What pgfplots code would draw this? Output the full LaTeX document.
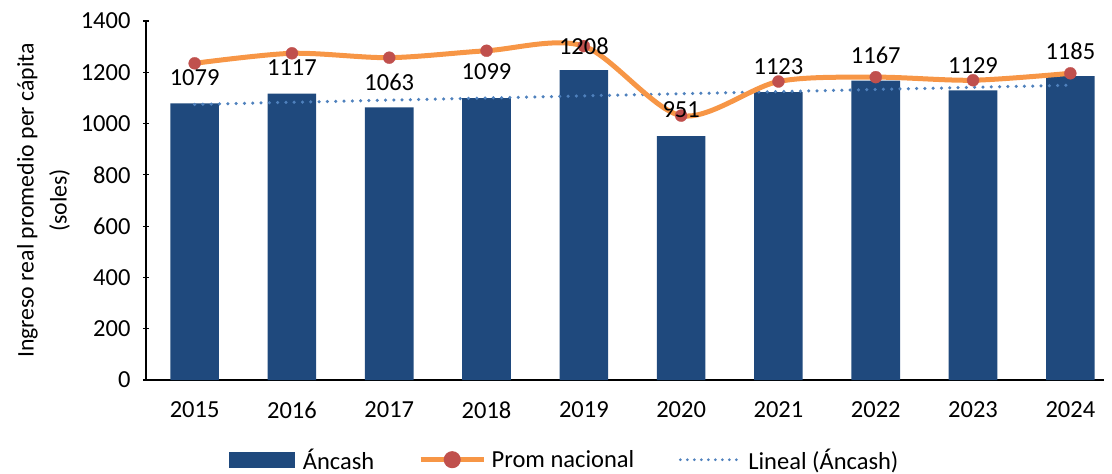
\documentclass[border=0pt]{standalone}
\usepackage{fontspec}
\setmainfont{Carlito}
\usepackage{pgfplots}
\pgfplotsset{compat=1.18}
\definecolor{barblue}{RGB}{31,73,125}
\definecolor{lineorange}{RGB}{247,150,70}
\definecolor{markred}{RGB}{192,80,77}
\definecolor{trendblue}{RGB}{79,129,189}

\begin{document}
\begin{tikzpicture}
\useasboundingbox (-146pt,-94pt) rectangle (966pt,380pt);
\begin{axis}[
    scale only axis,
    width=958pt, height=359pt,
    xmin=-0.5, xmax=9.346,
    ymin=0, ymax=1400,
    ytick={0,200,...,1400},
    xtick={0,...,9},
    xticklabels={2015,2016,2017,2018,2019,2020,2021,2022,2023,2024},
    minor xtick={-0.5,0.5,...,8.5},
    xtick style={draw=none},
    minor tick length=6pt,
    major tick length=6pt,
    tick align=outside,
    tick style={black, line width=1.2pt},
    axis x line=bottom, axis y line=left,
    axis line style={-, line width=1.3pt},
    font=\fontsize{24.5}{28}\selectfont,
    tick label style={font=\fontsize{24.5}{28}\selectfont},
    xticklabel style={yshift=-15pt},
    yticklabel style={xshift=-9pt},
    /pgf/number format/1000 sep={},
    /pgf/number format/assume math mode=true,
    ylabel={Ingreso real promedio per cápita\\(soles)},
    ylabel style={align=center, font=\fontsize{23.8}{33}\selectfont, yshift=4pt},
    legend style={at={(0.437,-0.222)}, anchor=center, draw=none,
        legend columns=3, font=\fontsize{24.5}{28}\selectfont,
        inner sep=0pt,
        /tikz/every even column/.append style={column sep=42pt}},
    legend cell align=left,
]
\addplot[ybar, bar width=48.6pt, bar shift=0pt, fill=barblue, draw=none,
    legend image code/.code={
        \path[draw=none, fill=none] (0pt,-8pt) rectangle (72pt,8pt);
        \fill[barblue] (0pt,-8pt) rectangle (66pt,8pt);}]
    coordinates {(0,1079) (1,1117) (2,1063) (3,1099) (4,1208)
                 (5,951) (6,1123) (7,1167) (8,1129) (9,1185)};
\addlegendentry{Áncash}

\addplot[trendblue, line width=3.5pt, line cap=round, dash pattern=on 0pt off 8.3pt,
    mark=none, forget plot]
    coordinates {(0,1074.7) (9,1149.6)};

\addplot[lineorange, line width=5pt, smooth, tension=0.5,
    mark=*, mark size=6pt, mark options={fill=markred, draw=markred, line width=0.3pt, solid},
    legend image code/.code={
        \path[draw=none, fill=none] (0pt,-8pt) rectangle (69pt,8pt);
        \draw[lineorange, line width=5pt] (0pt,0pt) -- (63pt,0pt);
        \fill[markred] (31.5pt,0pt) circle (6pt);}]
    coordinates {(0,1235) (1,1274) (2,1257) (3,1284) (4,1302)
                 (5,1031) (6,1164) (7,1181) (8,1169) (9,1196)};
\addlegendentry{Prom nacional}

\addlegendimage{trendblue,
    legend image code/.code={
        \path[draw=none, fill=none] (0pt,-8pt) rectangle (68pt,8pt);
        \draw[trendblue, line width=3pt, line cap=round, dash pattern=on 0pt off 7pt] (2pt,0pt) -- (62pt,0pt);}}
\addlegendentry{Lineal (Áncash)}

\addplot[draw=none, mark=none, forget plot,
    nodes near coords, point meta=explicit symbolic,
    every node near coord/.style={anchor=center, font=\fontsize{24.5}{28}\selectfont, inner sep=0pt}]
    table[meta=lab] {
x y lab
0 1178 1079
1 1217 1117
2 1162 1063
3 1201 1099
4 1303 1208
5 1053 951
6 1221 1123
7 1268 1167
8 1225 1129
9 1283 1185
};
\end{axis}
\end{tikzpicture}
\end{document}
